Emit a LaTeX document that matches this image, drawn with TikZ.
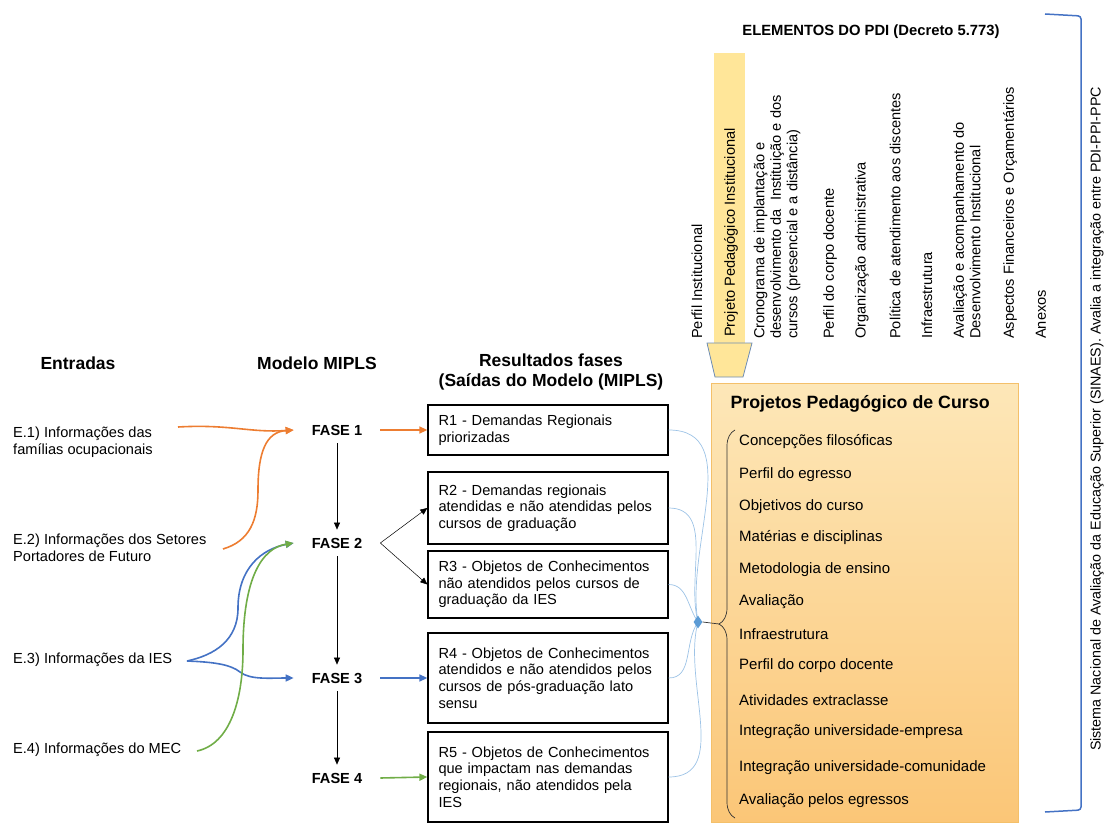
\documentclass[tikz,border=0pt]{standalone}
\usepackage{fontspec}
\setmainfont{Liberation Sans}
\usetikzlibrary{arrows.meta, positioning, shapes.geometric, decorations.pathreplacing}

\definecolor{cOrange}{HTML}{ED7D31}
\definecolor{cBlue}{HTML}{4472C4}
\definecolor{cGreen}{HTML}{70AD47}
\definecolor{cLink}{HTML}{9DC3E6}
\definecolor{cDia}{HTML}{5B9BD5}
\definecolor{cPale}{HTML}{FFE699}
\definecolor{cFunnel}{HTML}{6E8DB5}
\definecolor{cTopBox}{HTML}{FDE7B8}
\definecolor{cBotBox}{HTML}{FBC677}
\definecolor{cBoxLine}{HTML}{F4C06A}

\tikzset{
  hdr/.style={font=\fontsize{17.5}{20.5}\selectfont\bfseries, align=center},
  entrada/.style={anchor=west, align=left, font=\fontsize{14.6}{16.8}\selectfont, inner sep=0pt},
  fase/.style={font=\fontsize{14.6}{16}\selectfont\bfseries, inner xsep=18pt, inner ysep=8pt},
  rbox/.style={draw, line width=1.3pt, minimum width=240pt, text width=219pt, align=left,
    font=\fontsize{14.6}{16.7}\selectfont, inner xsep=10.5pt},
  pdi/.style={rotate=90, anchor=west, align=left, font=\fontsize{14.6}{16.5}\selectfont, inner sep=2pt},
  item/.style={anchor=west, font=\fontsize{15}{17}\selectfont, inner sep=0pt},
  flow/.style={-{Triangle[length=8pt,width=7pt]}, line width=1.6pt},
  seta/.style={-{Triangle[length=7pt,width=6pt]}, line width=0.5pt},
  link/.style={cLink, line width=0.7pt},
}

\begin{document}
\begin{tikzpicture}[x=1pt, y=-1pt]
  \useasboundingbox (0,0) rectangle (1104,824);

  % column headers
  \node[hdr] (hin) at (78,363) {Entradas};
  \node[hdr] (hmod) at (317,363) {Modelo MIPLS};
  \node[hdr] (hres) at (551,372) {Resultados fases\\(Saídas do Modelo (MIPLS)};

  % inputs
  \node[entrada] (e1) at (13,442) {E.1) Informações das\\famílias ocupacionais};
  \node[entrada] (e2) at (13,548) {E.2) Informações dos Setores\\Portadores de Futuro};
  \node[entrada] (e3) at (13,660) {E.3) Informações da IES};
  \node[entrada] (e4) at (13,750) {E.4) Informações do MEC};
  \coordinate (e1o) at (178,427);
  \coordinate (e2o) at (223,549);
  \coordinate (e3o) at (187,661);
  \coordinate (e4o) at (197,751);

  % phases of the model
  \node[fase] (f1) at (337,430) {FASE 1};
  \node[fase] (f2) at (337,543) {FASE 2};
  \node[fase] (f3) at (337,678) {FASE 3};
  \node[fase] (f4) at (337,778) {FASE 4};

  % results
  \node[rbox, minimum height=50pt] (r1) at (548,430) {R1 - Demandas Regionais\\priorizadas};
  \node[rbox, minimum height=72pt] (r2) at (548,508) {R2 - Demandas regionais\\atendidas e não atendidas pelos\\cursos de graduação};
  \node[rbox, minimum height=67pt] (r3) at (548,584.5) {R3 - Objetos de Conhecimentos\\não atendidos pelos cursos de\\graduação da IES};
  \node[rbox, minimum height=90pt] (r4) at (548,678) {R4 - Objetos de Conhecimentos\\atendidos e não atendidos pelos\\cursos de pós-graduação lato\\sensu};
  \node[rbox, minimum height=90pt] (r5) at (548,777) {R5 - Objetos de Conhecimentos\\que impactam nas demandas\\regionais, não atendidos pela\\IES};

  % coloured inputs into the phases
  \draw[flow, cOrange] (e1o) .. controls (230,424) and (250,433) .. (f1.west);
  \draw[flow, cOrange] (e2o) .. controls (250,541) and (258,520) .. (258,490)
    .. controls (258,452) and (266,432) .. (f1.west);
  \draw[flow, cBlue] (e3o) .. controls (215,655) and (238,640) .. (238,608)
    .. controls (238,568) and (262,549) .. (f2.west);
  \draw[flow, cBlue] (e3o) .. controls (212,662) and (230,664) .. (240,672)
    .. controls (250,680) and (270,678) .. (f3.west);
  \draw[flow, cGreen] (e4o) .. controls (230,744) and (243,700) .. (243,650)
    .. controls (243,578) and (262,548) .. (f2.west);

  % sequence of phases
  \draw[seta] (f1) -- (f2);
  \draw[seta] (f2) -- (f3);
  \draw[seta] (f3) -- (f4);

  % phases to results
  \draw[flow, cOrange] (f1.east) -- (r1.west);
  \draw[seta] (f2.east) -- (r2.west);
  \draw[seta] (f2.east) -- (r3.west);
  \draw[flow, cBlue] (f3.east) -- (r4.west);
  \draw[flow, cGreen] (f4.east) -- (r5.west);

  % PDI elements
  \node[font=\fontsize{14.8}{17}\selectfont\bfseries] (pdihdr) at (871,32) {ELEMENTOS DO PDI (Decreto 5.773)};
  \fill[cPale] (714,53) rectangle (745,343);
  \draw[cFunnel, fill=cPale, line width=0.8pt] (707,343) -- (752,343) -- (743,377) -- (715,377) -- cycle;
  \node[pdi] (p1) at (697,341) {Perfil Institucional};
  \node[pdi] (p2) at (731,339) {Projeto Pedagógico Institucional};
  \node[pdi] (p3) at (777,341) {Cronograma de implantação e\\desenvolvimento da\ \ Instituição e dos\\cursos (presencial e a distância)};
  \node[pdi] (p4) at (830,341) {Perfil do corpo docente};
  \node[pdi] (p5) at (862,341) {Organização administrativa};
  \node[pdi] (p6) at (895,341) {Política de atendimento aos discentes};
  \node[pdi] (p7) at (927,341) {Infraestrutura};
  \node[pdi] (p8) at (967,341) {Avaliação e acompanhamento do\\Desenvolvimento Institucional};
  \node[pdi] (p9) at (1010,341) {Aspectos Financeiros e Orçamentários};
  \node[pdi] (p10) at (1041,341) {Anexos};

  % course projects box
  \draw[draw=cBoxLine, top color=cTopBox, bottom color=cBotBox] (711,383) rectangle (1018,822);
  \node[anchor=west, font=\fontsize{17.8}{20}\selectfont\bfseries] (ppc) at (727,404) {Projetos Pedagógico de Curso};
  \foreach \txt/\yy [count=\i] in {Concepções filosóficas/442, Perfil do egresso/475,
      Objetivos do curso/507, Matérias e disciplinas/538, Metodologia de ensino/570,
      Avaliação/602, Infraestrutura/634, Perfil do corpo docente/666,
      Atividades extraclasse/700, Integração universidade-empresa/732,
      Integração universidade-comunidade/768, Avaliação pelos egressos/801}
    \node[item] (c\i) at (739,\yy) {\txt};
  \draw[decorate, decoration={brace, amplitude=16pt}, line width=0.7pt, black!80] (735,818) -- (735,430);
  \coordinate (btip) at (719,624);

  % results gathered into the course projects
  \coordinate (hub) at (698,622);
  \draw[link] (r1.east) to[out=0, in=100] (hub);
  \draw[link] (r2.east) to[out=0, in=105] (hub);
  \draw[link] (r3.east) to[out=0, in=125] (hub);
  \draw[link] (r4.east) to[out=0, in=235] (hub);
  \draw[link] (r5.east) to[out=0, in=255] (hub);
  \node[diamond, fill=cDia, inner sep=0pt, minimum width=9pt, minimum height=13pt] (dia) at (hub) {};
  \draw[line width=0.7pt, black!80] (dia.east) -- (btip);

  % SINAES bracket
  \draw[cBlue, line width=1.5pt, rounded corners=3pt] (1045,14) -- (1081,16) -- (1081,810) -- (1045,812);
  \node[rotate=90, font=\fontsize{14.3}{16}\selectfont] (sinaes) at (1097,419) {Sistema Nacional de Avaliação da Educação Superior (SINAES). Avalia a integração entre PDI-PPI-PPC};
\end{tikzpicture}
\end{document}
